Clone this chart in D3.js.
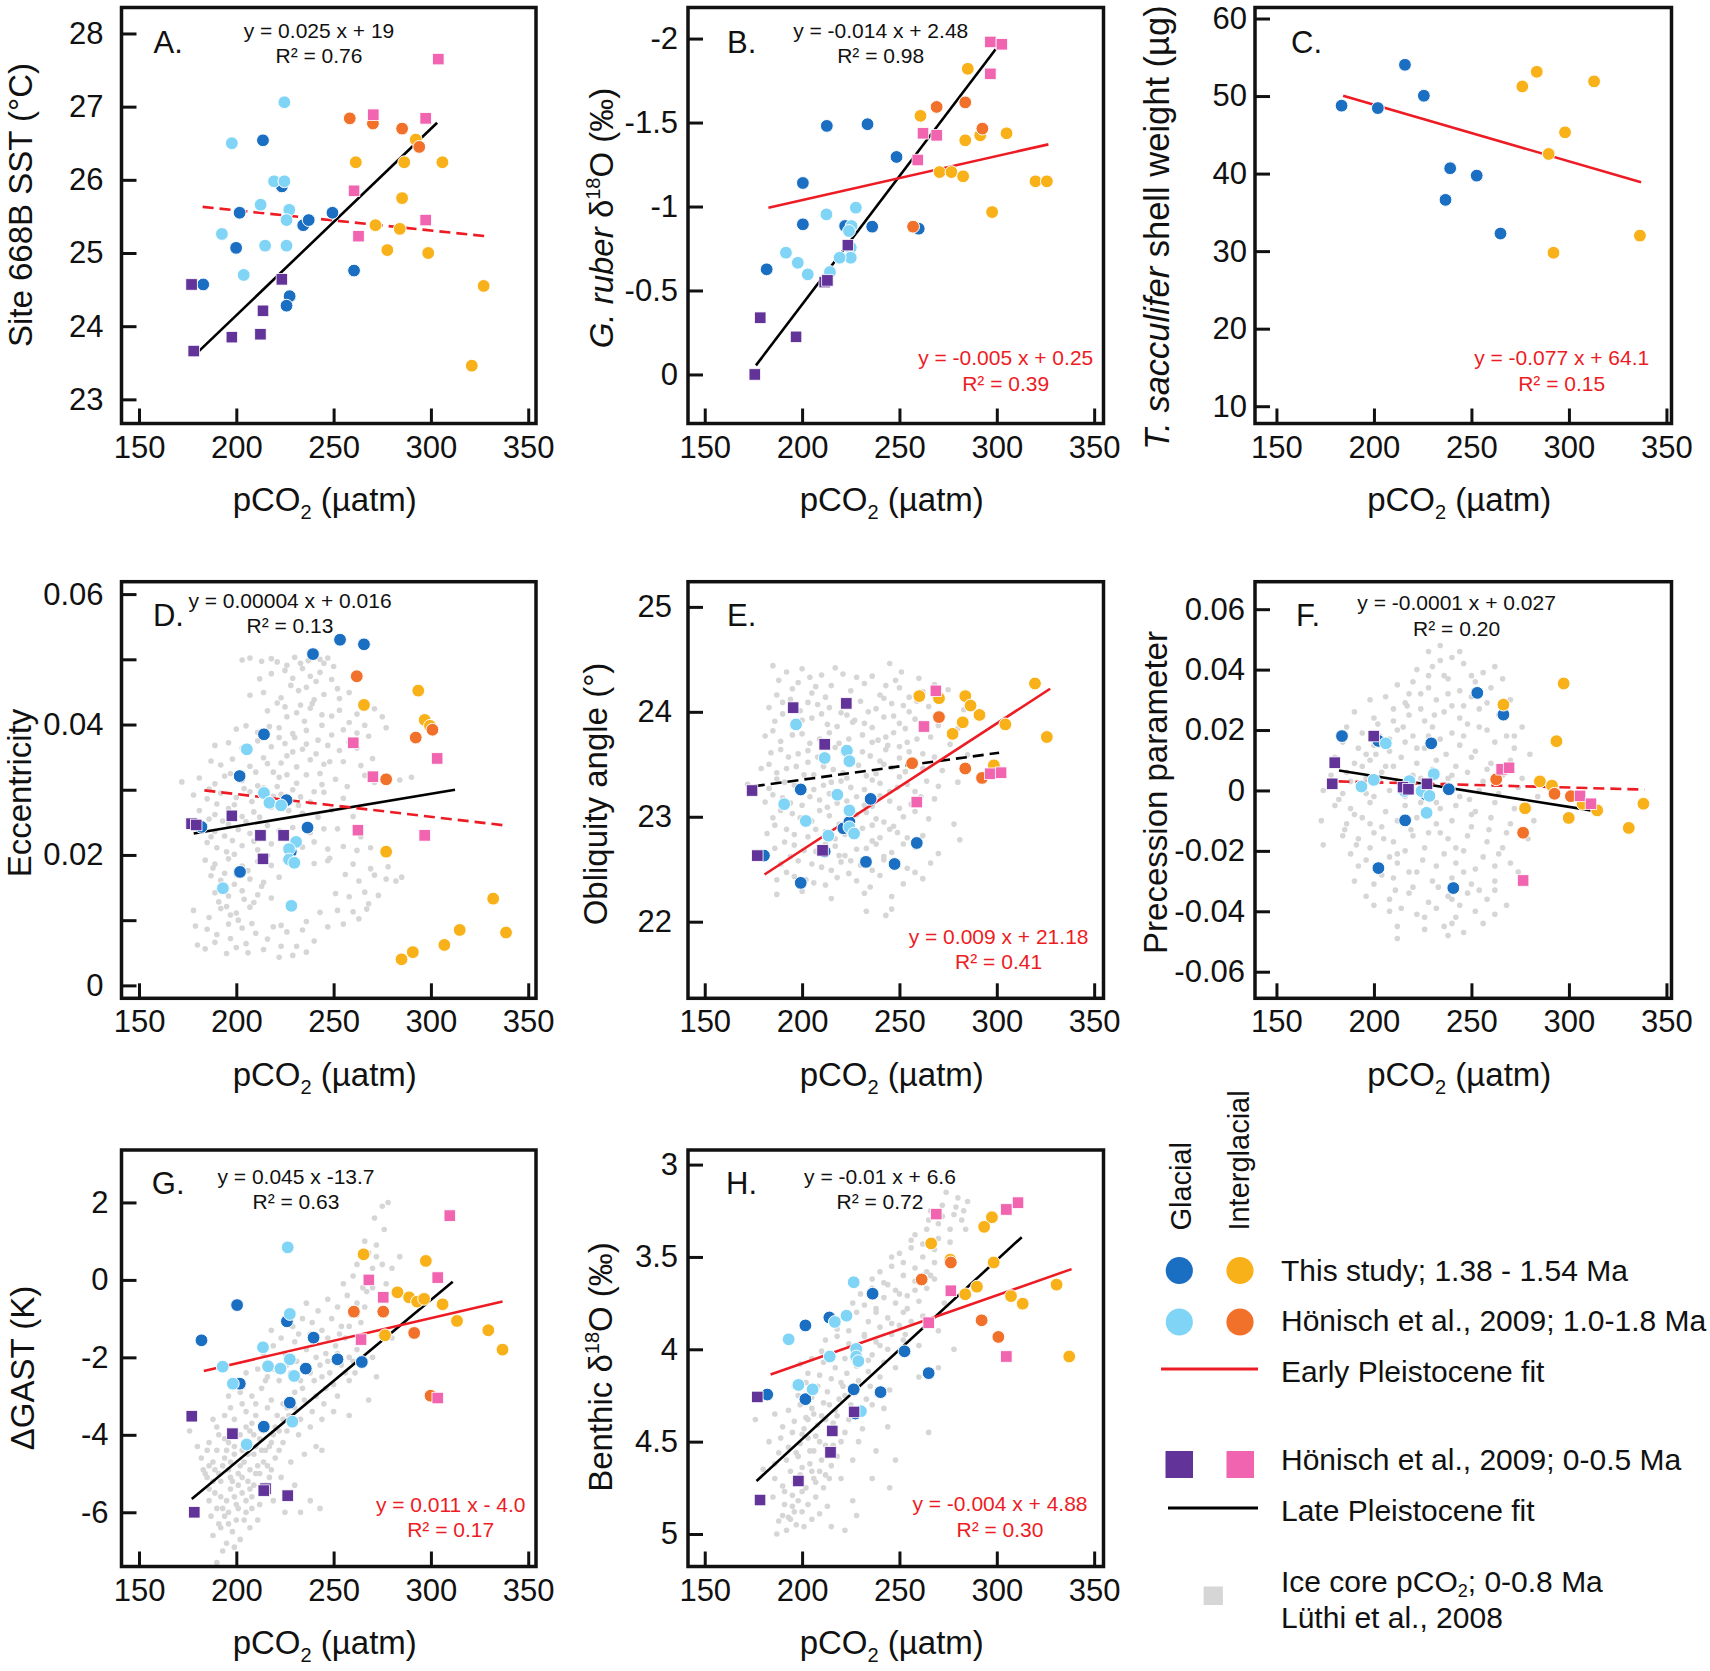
<!DOCTYPE html>
<html><head><meta charset="utf-8">
<script src="https://cdn.jsdelivr.net/npm/d3@7"></script>
<style>
body{margin:0;background:#fff}
svg{display:block}
text{font-family:"Liberation Sans", Arial, Helvetica, sans-serif;fill:#111}
</style>
</head><body>
<svg id="chart" width="1710" height="1671"></svg>
<script>
// ---------- shared axis values ----------
const xTicks = [150, 200, 250, 300, 350];
const xTickLabels = ["150", "200", "250", "300", "350"];

const A_yTicks = [23, 24, 25, 26, 27, 28];
const A_yTickLabels = ["23", "24", "25", "26", "27", "28"];
const B_yTicks = [0, -0.5, -1, -1.5, -2];
const B_yTickLabels = ["0", "-0.5", "-1", "-1.5", "-2"];
const C_yTicks = [10, 20, 30, 40, 50, 60];
const C_yTickLabels = ["10", "20", "30", "40", "50", "60"];
const D_yTicks = [0, 0.01, 0.02, 0.03, 0.04, 0.05, 0.06];
const D_yTickLabels = ["0", "", "0.02", "", "0.04", "", "0.06"];
const E_yTicks = [22, 23, 24, 25];
const E_yTickLabels = ["22", "23", "24", "25"];
const F_yTicks = [-0.06, -0.04, -0.02, 0, 0.02, 0.04, 0.06];
const F_yTickLabels = ["-0.06", "-0.04", "-0.02", "0", "0.02", "0.04", "0.06"];
const G_yTicks = [-6, -4, -2, 0, 2];
const G_yTickLabels = ["-6", "-4", "-2", "0", "2"];
const H_yTicks = [3, 3.5, 4, 4.5, 5];
const H_yTickLabels = ["3", "3.5", "4", "4.5", "5"];

// ---------- A: Site 668B SST ----------
const A_thisGlacial = [[183.0,24.57],[213.7,26.54],[201.7,25.55],[199.9,25.07],[223.4,25.91],[234.4,25.38],[237.2,25.45],[249.4,25.55],[227.4,24.41],[225.8,24.28],[260.5,24.76]];
const A_thisInterglacial = [[261.4,26.24],[286.3,26.24],[305.9,26.24],[292.2,26.55],[285.2,25.75],[271.5,25.38],[284.0,25.33],[277.6,25.04],[298.6,25.0],[327.1,24.55],[321.0,23.46]];
const A_hon18Glacial = [[197.7,26.5],[224.7,27.06],[219.4,25.98],[224.7,25.98],[212.5,25.66],[227.2,25.59],[225.8,25.45],[192.6,25.26],[214.8,25.10],[225.8,25.10],[203.8,24.70]];
const A_hon18Interglacial = [[258.3,26.84],[270.2,26.77],[285.2,26.70],[294.0,26.45]];
const A_hon05Glacial = [[177.0,24.57],[178.1,23.66],[197.7,23.85],[212.4,23.89],[213.7,24.21],[223.4,24.64]];
const A_hon05Interglacial = [[303.8,27.65],[270.4,26.89],[297.3,26.84],[260.5,25.85],[297.3,25.45],[262.8,25.23]];
const A_lateFit = [[178.1,23.59],[303.2,26.78]];
const A_earlyFit = [[182.7,25.63],[328.4,25.23]];

// ---------- B: G. ruber d18O ----------
const B_thisGlacial = [[181.8,-0.626],[212.7,-1.48],[233.6,-1.49],[200.4,-1.14],[200.4,-0.894],[248.5,-1.295],[236.0,-0.88],[222.1,-0.884],[259.9,-0.868]];
const B_thisInterglacial = [[285.1,-1.82],[260.8,-1.54],[305.0,-1.436],[291.5,-1.424],[283.8,-1.394],[270.6,-1.205],[276.7,-1.205],[282.7,-1.18],[319.9,-1.15],[325.7,-1.15],[297.6,-0.967]];
const B_hon18Glacial = [[212.5,-0.953],[227.6,-0.993],[225.4,-0.884],[224.1,-0.854],[225.0,-0.755],[225.0,-0.695],[219.3,-0.695],[191.7,-0.725],[197.8,-0.665],[202.9,-0.596],[214.3,-0.61]];
const B_hon18Interglacial = [[269.1,-1.593],[283.8,-1.62],[292.6,-1.464],[257.0,-0.88]];
const B_hon05Glacial = [[175.7,0.0],[178.5,-0.338],[196.9,-0.224],[211.6,-0.55],[213.0,-0.56],[223.5,-0.77]];
const B_hon05Interglacial = [[296.7,-1.98],[302.6,-1.966],[296.7,-1.79],[262.1,-1.436],[269.1,-1.424],[259.4,-1.277]];
const B_lateFit = [[176.3,-0.054],[299.4,-1.936]];
const B_earlyFit = [[182.7,-0.993],[326.5,-1.37]];

// ---------- C: T. sacculifer shell weight ----------
const C_thisGlacial = [[183.4,48.76],[202.0,48.45],[215.9,54.03],[225.6,50.04],[239.1,40.69],[236.7,36.61],[252.7,39.74],[264.9,32.27]];
const C_thisInterglacial = [[276.1,51.24],[283.5,53.13],[312.9,51.89],[298.0,45.32],[289.6,42.53],[292.1,29.79],[336.4,32.0]];
const C_earlyFit = [[184.2,50.04],[337.0,38.88]];

// ---------- D: Eccentricity ----------
const D_thisGlacial = [[253.3,0.0530],[265.6,0.0523],[239.4,0.0508],[214.2,0.0385],[201.7,0.0321],[225.8,0.0284],[236.6,0.0242],[201.9,0.0174],[182.1,0.0243],[228.0,0.0205]];
const D_thisInterglacial = [[293.5,0.0452],[265.6,0.0430],[296.8,0.0407],[299.5,0.0398],[277.0,0.0205],[332.0,0.0133],[314.8,0.0085],[338.6,0.0081],[306.9,0.0062],[290.7,0.0051],[284.9,0.0040]];
const D_hon18Glacial = [[205.4,0.0362],[214.2,0.0295],[217.0,0.0280],[223.0,0.0276],[230.7,0.0220],[227.1,0.0209],[227.1,0.0193],[229.8,0.0188],[193.1,0.0149],[228.3,0.0122]];
const D_hon18Interglacial = [[261.9,0.0474],[292.2,0.0380],[300.8,0.0392],[277.0,0.0316]];
const D_hon05Glacial = [[177.0,0.0248],[179.4,0.0246],[197.7,0.0260],[212.4,0.0230],[224.3,0.0230],[213.7,0.0194]];
const D_hon05Interglacial = [[260.1,0.0372],[303.2,0.0348],[270.2,0.0320],[262.5,0.0238],[296.8,0.0230]];
const D_lateFit = [[178.1,0.0233],[312.4,0.0300]];
const D_earlyFit = [[183.6,0.0299],[339.0,0.0245]];
const D_iceCore = [
[203,0.0499],[207,0.0502],[213,0.0497],[218,0.0501],[221,0.0496],[230,0.0503],[237,0.0498],[243,0.0500],[245,0.0494],[247,0.0502],
[218,0.0478],[225,0.0483],[229,0.0471],[234,0.0486],[238,0.0474],[243,0.0480],[249,0.0469],
[207,0.0445],[214,0.0449],[223,0.0441],[232,0.0452],[240,0.0438],[245,0.0446],[253,0.0440],[258,0.0449],
[216,0.0421],[225,0.0427],[231,0.0418],[238,0.0425],[244,0.0415],[253,0.0422],[262,0.0416],[271,0.0424],[275,0.0412],
[200,0.0393],[205,0.0398],[211,0.0388],[222,0.0395],[229,0.0386],[236,0.0391],[244,0.0399],[249,0.0384],[255,0.0392],[262,0.0387],[277,0.0395],
[189,0.0368],[196,0.0372],[203,0.0364],[211,0.0375],[218,0.0366],[225,0.0371],[234,0.0362],[242,0.0376],[247,0.0368],[253,0.0360],[258,0.0373],
[187,0.0344],[192,0.0338],[198,0.0347],[207,0.0336],[214,0.0349],[223,0.0341],[231,0.0335],[238,0.0346],[245,0.0339],[255,0.0343],[264,0.0337],
[172,0.0312],[181,0.0318],[189,0.0309],[194,0.0321],[203,0.0314],[211,0.0306],[222,0.0319],[231,0.0310],[236,0.0323],[244,0.0308],[251,0.0316],[271,0.0311],[284,0.0315],[290,0.0319],
[178,0.0292],[185,0.0286],[192,0.0295],[200,0.0288],[207,0.0297],[216,0.0283],[223,0.0293],[233,0.0289],[238,0.0281],[245,0.0296],[255,0.0287],
[181,0.0268],[189,0.0262],[196,0.0271],[203,0.0259],[209,0.0266],[218,0.0273],[234,0.0264],[242,0.0258],[249,0.0269],
[183,0.0243],[189,0.0236],[196,0.0247],[201,0.0239],[207,0.0233],[216,0.0245],[222,0.0237],[229,0.0242],[238,0.0234],[245,0.0240],
[185,0.0219],[190,0.0211],[198,0.0222],[203,0.0214],[211,0.0208],[218,0.0217],[234,0.0212],[240,0.0220],[247,0.0209],[255,0.0213],[262,0.0207],[269,0.0211],
[184,0.0192],[189,0.0186],[196,0.0194],[203,0.0183],[211,0.0190],[218,0.0184],[225,0.0193],[240,0.0187],[247,0.0191],[260,0.0186],[269,0.0179],[278,0.0182],
[187,0.0168],[192,0.0161],[200,0.0170],[207,0.0163],[214,0.0158],[222,0.0166],[271,0.0169],[277,0.0163],[282,0.0160],[285,0.0166],
[189,0.0142],[196,0.0137],[203,0.0145],[211,0.0139],[218,0.0134],[251,0.0141],[258,0.0136],[266,0.0143],[273,0.0138],
[178,0.0115],[192,0.0118],[200,0.0111],[207,0.0120],[260,0.0113],[267,0.0117],
[179,0.0091],[185,0.0086],[196,0.0094],[203,0.0088],[223,0.0092],[234,0.0085],[247,0.0090],[255,0.0094],
[180,0.0062],[189,0.0066],[200,0.0058],[205,0.0064],[214,0.0055],[223,0.0060],[229,0.0046],[240,0.0068],
[186,0.0255],[194,0.0229],[199,0.0201],[206,0.0176],[213,0.0152],[191,0.0128],[197,0.0108],[208,0.0282],[214,0.0303],[219,0.0327],[226,0.0352],[230,0.0380],[235,0.0405],[239,0.0432],[228,0.0460],[212,0.0470],
[186,0.0301],[190,0.0278],[193,0.0252],[187,0.0228],[195,0.0205],[188,0.0180],[194,0.0172],[199,0.0155],[191,0.0147],[204,0.0132],[209,0.0127],[195,0.0121],[186,0.0104],[201,0.0100],[208,0.0095],[190,0.0078],[197,0.0072],[210,0.0080],[216,0.0071],[206,0.0050],[195,0.0049],[184,0.0056],
[212,0.0192],[216,0.0199],[209,0.0221],[214,0.0230],[205,0.0251],[212,0.0258],[199,0.0277],[204,0.0302],[197,0.0325],[210,0.0327],[216,0.0340],[221,0.0305],[226,0.0323],[219,0.0290],[227,0.0268],[232,0.0276],[229,0.0300],[240,0.0297],
[243,0.0325],[248,0.0343],[241,0.0355],[236,0.0370],[229,0.0358],[222,0.0380],[217,0.0397],[226,0.0412],[233,0.0430],[221,0.0433],[236,0.0457],[241,0.0466],[226,0.0491],[233,0.0494],[250,0.0489],[252,0.0455],[249,0.0413],[258,0.0403],
[266,0.0399],[268,0.0382],[262,0.0364],[270,0.0348],[266,0.0322],[257,0.0305],[260,0.0259],[252,0.0240],[264,0.0228],[248,0.0195],[256,0.0170],[263,0.0160],[268,0.0125],[263,0.0102],[252,0.0115],[243,0.0112],[236,0.0098],[226,0.0082],[219,0.0090],[231,0.0060],[236,0.0051],[222,0.0043]
];

// ---------- E: Obliquity ----------
const E_thisGlacial = [[199.3,23.26],[199.3,22.37],[235.2,23.17],[180.4,22.63],[211.6,22.67],[221.2,22.89],[224.3,22.95],[232.8,22.57],[247.5,22.55],[258.9,22.75]];
const E_thisInterglacial = [[260.2,24.15],[270.3,24.13],[283.8,24.15],[286.5,24.06],[291.1,23.97],[282.5,23.90],[304.4,23.88],[277.3,23.79],[319.6,24.27],[325.7,23.76],[298.5,23.49]];
const E_hon18Glacial = [[196.9,23.88],[211.6,23.56],[223.0,23.63],[224.3,23.53],[218.1,23.21],[190.8,23.12],[201.9,22.96],[224.3,23.06],[213.5,22.82],[224.3,22.90],[226.7,22.84]];
const E_hon18Interglacial = [[270.3,23.95],[256.5,23.51],[283.8,23.46],[292.4,23.37]];
const E_hon05Glacial = [[195.4,24.04],[222.7,24.08],[211.6,23.69],[174.3,23.25],[177.0,22.63],[210.5,22.68]];
const E_hon05Interglacial = [[268.7,24.20],[262.6,23.86],[296.6,23.41],[302.2,23.42],[258.9,23.14]];
const E_earlyFit = [[180.7,22.45],[327.4,24.22]];
const E_lateFit = [[175.2,23.29],[301.2,23.61]];
const E_iceCore = [
[185,24.44],[192,24.38],[200,24.41],[210,24.35],[217,24.42],[245,24.46],[251,24.38],
[195,24.22],[205,24.18],[215,24.25],[225,24.20],[232,24.27],[240,24.16],[250,24.23],[262,24.19],[268,24.26],[275,24.21],
[183,24.04],[190,24.09],[199,24.01],[208,24.07],[220,23.99],[230,24.10],[238,24.03],[246,24.08],[255,24.00],[265,24.05],[283,24.02],
[186,23.91],[195,23.86],[205,23.94],[213,23.88],[227,23.92],[236,23.85],[242,23.95],[250,23.89],[258,23.93],[270,23.87],[280,23.84],
[181,23.77],[189,23.72],[200,23.79],[209,23.74],[219,23.70],[231,23.78],[239,23.73],[247,23.80],[254,23.71],[266,23.76],[276,23.69],
[184,23.61],[193,23.57],[203,23.63],[213,23.55],[221,23.62],[235,23.58],[243,23.64],[250,23.56],[262,23.60],[285,23.59],
[179,23.46],[187,23.42],[197,23.48],[206,23.40],[216,23.45],[229,23.49],[238,23.41],[246,23.47],[253,23.43],[272,23.44],
[172,23.31],[183,23.27],[191,23.33],[201,23.25],[211,23.30],[220,23.34],[232,23.26],[240,23.32],[249,23.28],[258,23.24],[270,23.29],[280,23.33],
[181,23.14],[190,23.18],[200,23.11],[209,23.16],[218,23.13],[228,23.19],[236,23.10],[245,23.15],[256,23.12],[268,23.17],
[185,22.99],[195,23.03],[205,22.96],[214,23.01],[224,22.97],[233,23.04],[242,22.95],[252,23.00],[265,22.98],[278,22.93],
[182,22.84],[192,22.88],[203,22.81],[212,22.86],[222,22.83],[231,22.89],[240,22.80],[249,22.85],[262,22.82],[281,22.78],
[186,22.70],[196,22.73],[207,22.67],[217,22.72],[228,22.69],[238,22.74],[246,22.66],[258,22.71],[270,22.65],
[189,22.55],[198,22.58],[210,22.52],[220,22.57],[230,22.54],[242,22.59],[254,22.51],[266,22.56],
[187,22.40],[196,22.43],[206,22.37],[218,22.42],[228,22.39],[240,22.44],[252,22.36],[262,22.41],
[187,22.26],[200,22.29],[215,22.22],[232,22.27],[246,22.24],
[233,22.10],[243,22.06],[246,22.12],
[203,23.52],[223,23.37],[226,23.90],[244,23.68],[214,23.22],[236,22.92],[219,22.63],[207,24.24],[228,24.33],[248,24.30],
[188,24.30],[198,24.28],[204,24.33],[212,24.14],[221,24.36],[236,24.34],[243,24.25],[255,24.14],[260,24.32],
[187,24.16],[194,24.12],[203,24.09],[214,24.04],[224,24.11],[234,24.00],[242,24.13],[252,24.06],[259,24.10],[270,24.12],
[190,23.98],[200,23.92],[210,23.98],[218,23.86],[223,23.97],[232,23.89],[247,23.96],[253,23.84],[262,23.88],
[185,23.82],[195,23.78],[204,23.70],[214,23.80],[224,23.74],[236,23.71],[243,23.76],[250,23.67],[259,23.74],
[189,23.64],[198,23.60],[208,23.57],[217,23.66],[226,23.55],[231,23.62],[240,23.53],[255,23.62],[268,23.57],
[183,23.50],[192,23.46],[201,23.40],[211,23.48],[221,23.42],[233,23.39],[242,23.50],[250,23.38],[262,23.46],
[187,23.36],[196,23.30],[206,23.26],[215,23.33],[225,23.28],[236,23.35],[245,23.24],[254,23.31],[264,23.34],
[185,23.21],[194,23.13],[204,23.19],[213,23.09],[223,23.15],[232,23.11],[240,23.20],[250,23.08],[261,23.19],
[189,23.06],[199,22.99],[209,23.06],[219,22.93],[228,23.02],[238,22.98],[247,22.91],[258,23.05],
[186,22.92],[196,22.83],[207,22.88],[217,22.79],[226,22.86],[236,22.77],[245,22.88],[254,22.80],
[191,22.76],[201,22.68],[212,22.74],[222,22.63],[233,22.70],[242,22.62],[252,22.74],
[194,22.62],[205,22.55],[215,22.49],[225,22.58],[236,22.49],[248,22.55],
[192,22.47],[202,22.40],[212,22.35],[224,22.46],[235,22.33],[258,22.47]
];

// ---------- F: Precession ----------
const F_thisGlacial = [[183.6,0.0180],[202.3,0.0164],[229.4,0.0156],[253.0,0.0323],[266.4,0.0251],[238.4,0.0004],[226.6,-0.0013],[216.0,-0.0099],[202.3,-0.0257],[240.7,-0.0323]];
const F_thisInterglacial = [[297.3,0.0354],[266.4,0.0284],[293.6,0.0163],[285.1,0.0030],[291.3,0.0016],[277.5,-0.0059],[299.9,-0.0091],[307.0,-0.0044],[314.5,-0.0066],[338.2,-0.0044],[330.7,-0.0124]];
const F_hon18Glacial = [[206.1,0.0156],[199.9,0.0035],[193.6,0.0013],[218.2,0.0031],[215.7,-0.0002],[224.4,-0.0002],[228.5,-0.0018],[230.7,0.0054],[227.0,-0.0074]];
const F_hon18Interglacial = [[262.7,0.0037],[292.6,-0.0011],[301.0,-0.0019],[276.5,-0.0140]];
const F_hon05Glacial = [[179.9,0.0092],[178.6,0.0022],[199.9,0.0180],[214.9,0.0011],[217.7,0.0004],[227.2,0.0022]];
const F_hon05Interglacial = [[265.5,0.0070],[269.3,0.0075],[305.7,-0.0018],[311.3,-0.0044],[276.5,-0.0298]];
const F_lateFit = [[182.1,0.0066],[311.3,-0.0066]];
const F_earlyFit = [[181.8,0.0030],[338.8,0.0003]];
const F_iceCore = [
[228,0.046],[234,0.048],[240,0.044],
[222,0.040],[230,0.041],[236,0.038],[246,0.042],[256,0.039],[262,0.041],
[212,0.035],[220,0.036],[228,0.034],[238,0.037],[244,0.033],[252,0.036],[260,0.034],[266,0.037],
[198,0.030],[206,0.031],[216,0.029],[224,0.032],[232,0.030],[240,0.028],[250,0.031],[258,0.029],[270,0.030],
[190,0.026],[200,0.024],[210,0.027],[218,0.025],[226,0.023],[236,0.026],[244,0.024],[254,0.027],[264,0.025],
[186,0.021],[194,0.019],[202,0.022],[212,0.020],[220,0.018],[230,0.021],[240,0.019],[248,0.022],[258,0.020],[268,0.018],[276,0.021],
[184,0.016],[192,0.014],[200,0.015],[208,0.013],[216,0.016],[226,0.014],[234,0.017],[244,0.015],[252,0.013],[262,0.016],[272,0.014],
[180,0.011],[190,0.009],[198,0.010],[206,0.008],[214,0.011],[222,0.009],[232,0.010],[242,0.008],[250,0.011],[260,0.009],[270,0.010],[280,0.012],
[178,0.005],[186,0.006],[196,0.004],[204,0.006],[212,0.003],[220,0.005],[230,0.007],[238,0.004],[248,0.006],[256,0.003],[266,0.005],[276,0.004],
[174,0.000],[184,-0.001],[192,0.001],[200,-0.002],[208,0.000],[218,0.001],[226,-0.001],[236,0.002],[244,-0.002],[254,0.000],[264,-0.001],[274,0.001],[284,-0.002],
[180,-0.005],[188,-0.006],[198,-0.004],[206,-0.007],[216,-0.005],[224,-0.004],[234,-0.006],[242,-0.005],[252,-0.007],[262,-0.004],[272,-0.006],
[173,-0.010],[186,-0.011],[194,-0.009],[204,-0.012],[212,-0.010],[222,-0.009],[232,-0.011],[240,-0.010],[250,-0.012],[260,-0.009],[270,-0.011],[282,-0.010],
[174,-0.018],[184,-0.015],[192,-0.016],[200,-0.014],[210,-0.017],[220,-0.015],[228,-0.014],[238,-0.016],[248,-0.015],[258,-0.017],[268,-0.014],[279,-0.016],
[188,-0.021],[198,-0.019],[208,-0.022],[216,-0.020],[226,-0.019],[236,-0.021],[246,-0.020],[256,-0.022],[266,-0.019],
[192,-0.025],[202,-0.026],[212,-0.024],[222,-0.027],[232,-0.025],[242,-0.024],[252,-0.026],[262,-0.025],[274,-0.027],
[190,-0.030],[200,-0.031],[210,-0.029],[220,-0.032],[230,-0.030],[240,-0.029],[250,-0.031],[262,-0.030],
[196,-0.035],[208,-0.036],[218,-0.034],[228,-0.037],[238,-0.035],[248,-0.034],[258,-0.036],[268,-0.038],
[208,-0.040],[222,-0.041],[232,-0.039],[242,-0.042],[252,-0.040],[262,-0.041],
[212,-0.045],[226,-0.046],[240,-0.044],[246,-0.047],
[212,-0.049],[238,-0.048],
[196,0.012],[203,0.018],[210,0.023],[217,0.028],[224,0.027],[231,0.025],[238,0.032],[246,0.028],[228,0.038],[234,0.043],[218,0.032],
[188,0.003],[194,0.008],[201,0.012],[208,0.017],[215,0.021],[222,0.014],[228,0.018],[237,0.012],[246,0.018],[254,0.021],
[182,-0.003],[190,-0.008],[196,-0.001],[203,0.003],[210,0.008],[216,-0.002],[224,0.004],[232,-0.004],[240,0.005],[249,-0.003],[258,0.007],
[185,-0.013],[191,-0.018],[198,-0.011],[205,-0.016],[212,-0.021],[219,-0.013],[226,-0.007],[234,-0.014],[242,-0.019],[250,-0.008],[259,-0.013],
[196,-0.023],[204,-0.028],[211,-0.033],[218,-0.027],[225,-0.023],[233,-0.032],[240,-0.036],[246,-0.027],[254,-0.033],[264,-0.021],
[200,-0.038],[214,-0.039],[226,-0.042],[236,-0.045],[244,-0.038],[256,-0.044],[262,-0.033],[270,-0.024],[276,-0.013],[272,0.018],[266,0.028],[250,0.038],[244,0.046]
];

// ---------- G: delta GAST ----------
const G_thisGlacial = [[182.1,-1.56],[200.4,-0.65],[226.0,-1.07],[239.7,-1.49],[235.7,-2.29],[252.0,-2.05],[264.5,-2.12],[201.8,-2.68],[227.5,-3.17],[214.1,-3.79]];
const G_thisInterglacial = [[265.4,0.66],[297.4,0.49],[282.8,-0.32],[288.8,-0.45],[292.9,-0.56],[296.5,-0.49],[306.0,-0.63],[313.4,-1.06],[329.5,-1.30],[336.8,-1.80],[276.4,-1.43]];
const G_hon18Glacial = [[226.4,0.84],[227.5,-0.88],[213.7,-1.74],[227.5,-2.05],[216.3,-2.23],[222.7,-2.29],[229.7,-2.48],[193.0,-2.24],[198.2,-2.68],[228.8,-3.66],[205.3,-4.25]];
const G_hon18Interglacial = [[260.4,-0.82],[275.5,-0.82],[291.4,-1.37],[299.8,-2.99]];
const G_hon05Glacial = [[177.1,-3.52],[198.0,-3.97],[215.0,-5.39],[214.1,-5.44],[226.4,-5.57],[178.4,-6.0]];
const G_hon05Interglacial = [[309.7,1.66],[268.1,0.0],[303.5,0.06],[275.5,-0.45],[264.1,-1.54],[303.5,-3.05]];
const G_lateFit = [[177.1,-5.66],[311.2,-0.05]];
const G_earlyFit = [[183.3,-2.35],[336.8,-0.56]];
const G_iceCore = [
[188,-6.6],[193,-7.0],[196,-6.3],[200,-6.2],[205,-6.0],[190,-5.9],[195,-5.7],[199,-5.6],[203,-5.5],[208,-5.6],[212,-5.8],
[186,-5.4],[192,-5.2],[197,-5.1],[201,-5.0],[206,-5.2],[210,-5.0],[215,-5.3],[219,-5.7],[225,-6.0],[233,-6.0],[238,-5.7],[243,-5.9],
[183,-4.9],[188,-4.7],[194,-4.6],[199,-4.5],[204,-4.7],[209,-4.5],[214,-4.7],[218,-4.9],[223,-5.1],[230,-5.3],
[180,-4.3],[186,-4.2],[191,-4.0],[196,-4.2],[202,-4.0],[207,-3.9],[212,-4.1],[217,-4.3],[222,-4.4],[228,-4.7],[235,-4.5],[241,-4.3],
[176,-3.9],[188,-3.6],[194,-3.5],[199,-3.6],[205,-3.4],[210,-3.5],[215,-3.7],[220,-3.8],[226,-3.9],[232,-4.0],[238,-3.8],[244,-3.6],[250,-3.4],
[196,-3.0],[202,-2.9],[208,-3.0],[213,-2.8],[218,-3.1],[224,-3.2],[230,-3.3],[235,-3.1],[241,-3.0],[246,-2.8],[252,-3.0],[258,-2.6],[268,-3.1],
[205,-2.4],[211,-2.3],[216,-2.5],[222,-2.6],[228,-2.4],[233,-2.6],[238,-2.4],[243,-2.2],[248,-2.4],[254,-2.2],[261,-2.4],[270,-2.0],
[214,-1.9],[219,-1.7],[225,-1.9],[230,-1.6],[236,-1.8],[241,-1.6],[246,-1.9],[251,-1.7],[256,-1.5],[262,-1.8],
[218,-1.3],[229,-1.2],[234,-1.0],[239,-1.1],[244,-1.3],[249,-1.0],[254,-1.2],[259,-0.9],[264,-1.1],
[236,-0.6],[242,-0.8],[247,-0.5],[252,-0.7],[257,-0.4],[262,-0.6],[267,-0.3],
[255,-0.1],[260,0.1],[265,-0.2],[270,0.3],[275,0.4],[262,0.4],[268,0.7],[272,0.9],[276,1.3],[271,1.6],[275,1.9],[278,2.0],[280,0.3],[284,0.6],
[190,-7.3],[244,-4.4],[258,-3.5],[272,-2.5],[280,-1.5],[192,-6.4],[201,-5.9],[207,-4.9],[196,-4.9],[203,-4.4],[213,-4.4],[208,-3.7],
[187,-6.1],[191,-6.3],[195,-6.8],[198,-6.5],[202,-6.7],[207,-6.4],[211,-6.2],[186,-5.7],[189,-5.5],[193,-5.9],[197,-5.4],[201,-5.3],[205,-5.7],[209,-5.3],[213,-5.5],[217,-5.1],
[185,-5.1],[189,-4.9],[193,-4.8],[197,-4.7],[202,-4.8],[206,-4.5],[211,-4.8],[215,-4.4],[220,-4.6],[224,-4.2],
[182,-4.6],[185,-4.4],[190,-4.4],[194,-4.1],[199,-4.3],[204,-4.2],[209,-4.0],[214,-3.9],[219,-4.0],[224,-3.6],[229,-3.7],
[190,-3.8],[197,-3.3],[203,-3.2],[210,-3.2],[216,-3.3],[221,-3.5],[227,-3.5],[233,-3.6],[239,-3.4],[245,-3.2],
[215,-2.6],[219,-2.3],[226,-2.2],[231,-2.1],[236,-2.2],[241,-2.0],[247,-2.1],[252,-1.9],[258,-2.0],[264,-1.5],
[223,-1.5],[232,-1.4],[238,-1.4],[247,-1.5],[253,-1.4],[258,-1.2],[262,-0.9],[266,-0.7],[270,-0.2],[272,0.6],[277,-0.1],[266,1.0],
[184,-5.0],[188,-5.2],[192,-5.6],[196,-6.0],[200,-5.8],[204,-6.2],[208,-5.9],[212,-5.0],[216,-4.8],[195,-4.4],[199,-4.0],[205,-3.8],[210,-4.3],[186,-4.8],[191,-5.0],
[198,-5.2],[203,-5.1],[207,-5.4],[194,-6.1],[199,-6.9],[218,-4.2],[222,-3.9],[226,-3.3],[230,-2.9],[234,-2.8],[240,-2.6],[244,-2.5],[250,-2.7],[256,-2.4],[260,-2.1]
];

// ---------- H: Benthic d18O ----------
const H_thisGlacial = [[182.1,4.245],[201.7,3.871],[214.0,3.828],[201.7,4.27],[226.5,4.217],[236.2,3.699],[240.3,4.232],[252.6,4.011],[265.0,4.129],[227.4,4.348]];
const H_thisInterglacial = [[297.5,3.285],[293.5,3.337],[266.3,3.427],[298.4,3.53],[289.8,3.661],[283.8,3.702],[307.3,3.712],[313.3,3.753],[330.7,3.65],[337.2,4.039],[276.1,3.515]];
const H_hon18Glacial = [[226.5,3.637],[222.8,3.818],[216.8,3.852],[193.1,3.946],[227.8,3.998],[227.8,4.039],[228.9,4.064],[214.2,4.039],[198.1,4.193],[205.4,4.217],[230.2,4.335]];
const H_hon18Interglacial = [[261.4,3.622],[276.4,3.53],[292.2,3.843],[300.8,3.933]];
const H_hon05Glacial = [[177.0,4.258],[226.7,4.339],[215.5,4.442],[214.6,4.558],[198.1,4.713],[178.4,4.816]];
const H_hon05Interglacial = [[310.9,3.206],[304.9,3.243],[268.9,3.268],[276.4,3.683],[265.0,3.856],[304.9,4.039]];
const H_lateFit = [[176.6,4.713],[312.8,3.393]];
const H_earlyFit = [[183.8,4.137],[338.4,3.566]];
const H_iceCore = [
[187,5.0],[192,4.98],[197,4.95],[190,4.9],[195,4.85],[200,4.88],[205,4.92],[215,4.96],[222,4.98],
[185,4.8],[191,4.77],[196,4.72],[202,4.75],[207,4.8],[213,4.85],[226,4.82],[236,4.7],
[180,4.65],[186,4.62],[192,4.6],[198,4.58],[204,4.62],[209,4.66],[214,4.7],
[183,4.5],[189,4.48],[195,4.45],[201,4.43],[207,4.47],[212,4.52],[218,4.58],
[176,4.38],[186,4.35],[193,4.33],[199,4.3],[205,4.32],[210,4.36],[216,4.4],[222,4.45],[229,4.5],[238,4.55],
[196,4.2],[202,4.18],[208,4.2],[213,4.23],[219,4.27],[225,4.3],[231,4.35],[242,4.32],
[199,4.08],[205,4.05],[211,4.07],[217,4.1],[223,4.13],[229,4.17],[235,4.2],[245,4.22],
[212,3.95],[218,3.93],[224,3.97],[230,4.0],[236,4.03],[242,4.07],[248,4.1],
[222,3.83],[228,3.8],[234,3.85],[240,3.88],[246,3.92],[252,3.95],[260,3.98],
[230,3.7],[236,3.67],[242,3.72],[248,3.75],[254,3.78],[262,3.82],[270,3.9],
[240,3.58],[246,3.55],[252,3.6],[258,3.63],[264,3.67],
[250,3.48],[256,3.45],[262,3.5],[268,3.53],
[258,3.38],[264,3.35],[270,3.4],[276,3.42],
[266,3.25],[272,3.22],[278,3.27],[282,3.3],
[274,3.15],[280,3.18],[285,3.2],[284,3.35],[277,3.5],[266,3.6],[273,3.75],[278,4.0],[270,4.1],[260,4.15],[265,4.45],[248,4.6],[245,4.75],[228,4.9],[220,4.7],
[194,4.92],[199,4.68],[206,4.55],[203,4.38],[214,4.3],[220,4.18],[226,4.05],[232,3.92],[238,3.78],[244,3.65],[250,3.7],[256,3.85],
[188,4.93],[193,4.91],[198,4.82],[203,4.84],[209,4.89],[194,4.66],[200,4.64],[206,4.70],[211,4.75],[188,4.56],[193,4.53],[199,4.51],[204,4.55],[210,4.60],[215,4.63],[216,4.52],
[190,4.42],[196,4.39],[202,4.37],[208,4.41],[214,4.46],[220,4.50],[198,4.25],[205,4.26],[211,4.29],[217,4.33],[224,4.38],[231,4.43],
[203,4.13],[209,4.14],[215,4.16],[221,4.20],[227,4.24],[233,4.27],[210,4.01],[216,4.03],[222,4.05],[228,4.09],[234,4.12],[240,4.15],
[218,3.89],[224,3.90],[232,3.93],[238,3.96],[244,4.00],[226,3.75],[232,3.76],[238,3.80],[244,3.83],[250,3.87],
[236,3.62],[242,3.64],[248,3.68],[254,3.71],[260,3.74],[246,3.50],[252,3.53],[258,3.56],[264,3.58],[256,3.41],[262,3.43],[268,3.46],[265,3.30],[270,3.32],[276,3.35],[272,3.28],[279,3.23],[283,3.25],
[186,4.70],[190,4.74],[195,4.79],[200,4.77],[205,4.66],[191,4.84],[196,4.88],[201,4.96],[207,4.72],[212,4.68],[197,4.56],[203,4.48],[209,4.50],[200,4.46],[206,4.35],
[212,4.38],[218,4.36],[222,4.25],[228,4.20],[234,4.06],[240,3.98],[246,3.86],[252,3.80],[258,3.68],[262,3.60],[268,3.62],[253,3.92],[236,4.30],[244,4.42],[226,4.60]
];

// ---------- styles ----------
const COL = {
  thisG: "#1a6fc2", thisI: "#f8b119",
  h18G: "#80d5f7", h18I: "#f1712b",
  h05G: "#62349a", h05I: "#f064b0",
  ice: "#d6d6d6", red: "#ed1c24", black: "#000"
};

const cols = [
  {range: [121.5, 536], domain: [141, 354]},
  {range: [688, 1103.5], domain: [141.4, 354.8]},
  {range: [1255, 1671.5], domain: [139, 352.6]}
];
const rows = [[7.5, 423.5], [581.7, 998.3], [1150, 1566.5]];

const panels = [
  {col:0,row:0, yDomain:[22.67,28.355], yTicks:A_yTicks, yLabels:A_yTickLabels, gap:18,
   letter:"A.", letterPos:[153.6,53.3], ylab:[{t:"Site 668B SST (°C)"}], ylabPos:[31.5,205], ylabSize:33,
   ice:null, series:[A_thisGlacial,A_thisInterglacial,A_hon18Glacial,A_hon18Interglacial,A_hon05Glacial,A_hon05Interglacial],
   fits:[{d:A_lateFit,c:COL.black,dash:null},{d:A_earlyFit,c:COL.red,dash:"11,6"}],
   eqs:[{l:["y = 0.025 x + 19","R² = 0.76"],c:"#111",x:319,y:[37.7,63.3]}]},
  {col:1,row:0, yDomain:[0.292,-2.185], yTicks:B_yTicks, yLabels:B_yTickLabels, gap:10,
   letter:"B.", letterPos:[727,53.3], ylab:[{t:"G. ruber",i:true},{t:" δ"},{t:"18",sup:true},{t:"O (‰)",back:true}], ylabPos:[613,218], ylabSize:33,
   ice:null, series:[B_thisGlacial,B_thisInterglacial,B_hon18Glacial,B_hon18Interglacial,B_hon05Glacial,B_hon05Interglacial],
   fits:[{d:B_lateFit,c:COL.black,dash:null},{d:B_earlyFit,c:COL.red,dash:null}],
   eqs:[{l:["y = -0.014 x + 2.48","R² = 0.98"],c:"#111",x:880.7,y:[37.7,63.3]},
        {l:["y = -0.005 x + 0.25","R² = 0.39"],c:COL.red,x:1005.7,y:[365,390.5]}]},
  {col:2,row:0, yDomain:[7.77,61.42], yTicks:C_yTicks, yLabels:C_yTickLabels, gap:8,
   letter:"C.", letterPos:[1291,53.3], ylab:[{t:"T. sacculifer",i:true},{t:" shell weight (µg)"}], ylabPos:[1169,227.5], ylabSize:34.5,
   ice:null, series:[C_thisGlacial,C_thisInterglacial,[],[],[],[]],
   fits:[{d:C_earlyFit,c:COL.red,dash:null}],
   eqs:[{l:["y = -0.077 x + 64.1","R² = 0.15"],c:COL.red,x:1561.7,y:[365,390.5]}]},
  {col:0,row:1, yDomain:[-0.00198,0.0619], yTicks:D_yTicks, yLabels:D_yTickLabels, gap:18,
   letter:"D.", letterPos:[152.9,626], ylab:[{t:"Eccentricity"}], ylabPos:[30.5,793], ylabSize:33,
   ice:D_iceCore, series:[D_thisGlacial,D_thisInterglacial,D_hon18Glacial,D_hon18Interglacial,D_hon05Glacial,D_hon05Interglacial],
   fits:[{d:D_lateFit,c:COL.black,dash:null},{d:D_earlyFit,c:COL.red,dash:"11,6"}],
   eqs:[{l:["y = 0.00004 x + 0.016","R² = 0.13"],c:"#111",x:290,y:[607.7,633.3]}]},
  {col:1,row:1, yDomain:[21.27,25.24], yTicks:E_yTicks, yLabels:E_yTickLabels, gap:16,
   letter:"E.", letterPos:[727,626], ylab:[{t:"Obliquity angle (°)"}], ylabPos:[607,794], ylabSize:33,
   ice:E_iceCore, series:[E_thisGlacial,E_thisInterglacial,E_hon18Glacial,E_hon18Interglacial,E_hon05Glacial,E_hon05Interglacial],
   fits:[{d:E_lateFit,c:COL.black,dash:"11,6"},{d:E_earlyFit,c:COL.red,dash:null}],
   eqs:[{l:["y = 0.009 x + 21.18","R² = 0.41"],c:COL.red,x:998.6,y:[944,969.3]}]},
  {col:2,row:1, yDomain:[-0.0688,0.0691], yTicks:F_yTicks, yLabels:F_yTickLabels, gap:10,
   letter:"F.", letterPos:[1296,626], ylab:[{t:"Precession parameter"}], ylabPos:[1167,792.5], ylabSize:33,
   ice:F_iceCore, series:[F_thisGlacial,F_thisInterglacial,F_hon18Glacial,F_hon18Interglacial,F_hon05Glacial,F_hon05Interglacial],
   fits:[{d:F_lateFit,c:COL.black,dash:null},{d:F_earlyFit,c:COL.red,dash:"11,6"}],
   eqs:[{l:["y = -0.0001 x + 0.027","R² = 0.20"],c:"#111",x:1456.6,y:[610,636]}]},
  {col:0,row:2, yDomain:[-7.40,3.354], yTicks:G_yTicks, yLabels:G_yTickLabels, gap:13,
   letter:"G.", letterPos:[151.8,1193.8], ylab:[{t:"ΔGAST (K)"}], ylabPos:[34,1368], ylabSize:33,
   ice:G_iceCore, series:[G_thisGlacial,G_thisInterglacial,G_hon18Glacial,G_hon18Interglacial,G_hon05Glacial,G_hon05Interglacial],
   fits:[{d:G_lateFit,c:COL.black,dash:null},{d:G_earlyFit,c:COL.red,dash:null}],
   eqs:[{l:["y = 0.045 x -13.7","R² = 0.63"],c:"#111",x:296,y:[1183.5,1208.7]},
        {l:["y = 0.011 x - 4.0","R² = 0.17"],c:COL.red,x:450.7,y:[1512.3,1537.2]}]},
  {col:1,row:2, yDomain:[5.176,2.921], yTicks:H_yTicks, yLabels:H_yTickLabels, gap:10,
   letter:"H.", letterPos:[726,1194], ylab:[{t:"Benthic δ"},{t:"18",sup:true},{t:"O (‰)",back:true}], ylabPos:[612,1367], ylabSize:33,
   ice:H_iceCore, series:[H_thisGlacial,H_thisInterglacial,H_hon18Glacial,H_hon18Interglacial,H_hon05Glacial,H_hon05Interglacial],
   fits:[{d:H_lateFit,c:COL.black,dash:null},{d:H_earlyFit,c:COL.red,dash:null}],
   eqs:[{l:["y = -0.01 x + 6.6","R² = 0.72"],c:"#111",x:880,y:[1183.5,1209]},
        {l:["y = -0.004 x + 4.88","R² = 0.30"],c:COL.red,x:1000,y:[1511.3,1537]}]}
];

const seriesStyle = [
  {shape:"circle", fill:COL.thisG},
  {shape:"circle", fill:COL.thisI},
  {shape:"circle", fill:COL.h18G},
  {shape:"circle", fill:COL.h18I},
  {shape:"square", fill:COL.h05G},
  {shape:"square", fill:COL.h05I}
];

const svg = d3.select("#chart");
const TICK_FONT = 31, EQ_FONT = 21;

panels.forEach(p => {
  const [x0, x1] = cols[p.col].range;
  const [y0, y1] = rows[p.row];
  const x = d3.scaleLinear().domain(cols[p.col].domain).range([x0, x1]);
  const y = d3.scaleLinear().domain(p.yDomain).range([y1, y0]);
  const g = svg.append("g");

  if (p.ice) {
    g.append("g").selectAll("circle").data(p.ice).join("circle")
      .attr("cx", d => x(d[0])).attr("cy", d => y(d[1])).attr("r", 2.8)
      .attr("fill", COL.ice);
  }
  const line = d3.line().x(d => x(d[0])).y(d => y(d[1]));
  p.fits.forEach(f => {
    g.append("path").attr("d", line(f.d)).attr("fill", "none")
      .attr("stroke", f.c).attr("stroke-width", 2.6)
      .attr("stroke-dasharray", f.dash);
  });
  p.series.forEach((s, i) => {
    const st = seriesStyle[i];
    const sg = g.append("g");
    if (st.shape === "circle") {
      sg.selectAll("circle").data(s).join("circle")
        .attr("cx", d => x(d[0])).attr("cy", d => y(d[1])).attr("r", 6.4)
        .attr("fill", st.fill).attr("stroke", "#fff").attr("stroke-width", 1);
    } else {
      const a = 11.5;
      sg.selectAll("rect").data(s).join("rect")
        .attr("x", d => x(d[0]) - a/2).attr("y", d => y(d[1]) - a/2)
        .attr("width", a).attr("height", a)
        .attr("fill", st.fill).attr("stroke", "#fff").attr("stroke-width", 0.8);
    }
  });

  const xAxis = d3.axisBottom(x).tickValues(xTicks).tickSize(-15).tickPadding(12)
    .tickFormat((d, i) => xTickLabels[i]);
  const gx = g.append("g").attr("transform", `translate(0,${y1})`).call(xAxis);
  const yAxis = d3.axisLeft(y).tickValues(p.yTicks).tickSize(-15).tickPadding(p.gap)
    .tickFormat((d, i) => p.yLabels[i]);
  const gy = g.append("g").attr("transform", `translate(${x0},0)`).call(yAxis);
  [gx, gy].forEach(ax => {
    ax.select(".domain").remove();
    ax.selectAll(".tick line").attr("stroke", "#111").attr("stroke-width", 3);
    ax.selectAll(".tick text").attr("font-size", TICK_FONT).attr("fill", "#111")
      .attr("font-family", '"Liberation Sans", Arial, sans-serif');
  });

  g.append("rect").attr("x", x0).attr("y", y0).attr("width", x1 - x0).attr("height", y1 - y0)
    .attr("fill", "none").attr("stroke", "#111").attr("stroke-width", 3.5);

  g.append("text").attr("x", p.letterPos[0]).attr("y", p.letterPos[1])
    .attr("font-size", 31).text(p.letter);

  p.eqs.forEach(e => {
    e.l.forEach((t, k) => {
      g.append("text").attr("x", e.x).attr("y", e.y[k]).attr("text-anchor", "middle")
        .attr("font-size", EQ_FONT).style("fill", e.c).text(t);
    });
  });

  const xl = g.append("text").attr("x", (x0 + x1) / 2 - 4).attr("y", y1 + 87.5)
    .attr("text-anchor", "middle").attr("font-size", 33);
  xl.append("tspan").text("pCO");
  xl.append("tspan").attr("font-size", 20).attr("dy", 8).text("2");
  xl.append("tspan").attr("dy", -8).text(" (µatm)");

  const yl = g.append("text")
    .attr("transform", `translate(${p.ylabPos[0]},${p.ylabPos[1]}) rotate(-90)`)
    .attr("text-anchor", "middle").attr("font-size", p.ylabSize);
  p.ylab.forEach(part => {
    const ts = yl.append("tspan").text(part.t);
    if (part.i) ts.attr("font-style", "italic");
    if (part.sup) ts.attr("font-size", 20).attr("dy", -13);
    if (part.back) ts.attr("dy", 13);
  });
});

// ---------- legend ----------
const legendCircles = [
  {cx:1179.3, cy:1270.5, c:COL.thisG}, {cx:1240, cy:1270.5, c:COL.thisI},
  {cx:1179.3, cy:1322, c:COL.h18G}, {cx:1240, cy:1322, c:COL.h18I}
];
const legendTexts = [
  {t:"This study; 1.38 - 1.54 Ma", y:1280.5},
  {t:"Hönisch et al., 2009; 1.0-1.8 Ma", y:1331},
  {t:"Early Pleistocene fit", y:1382},
  {t:"Hönisch et al., 2009; 0-0.5 Ma", y:1470},
  {t:"Late Pleistocene fit", y:1521},
  {t:"Lüthi et al., 2008", y:1628}
];
const lg = svg.append("g");
lg.append("text").attr("transform", "translate(1191,1230.6) rotate(-90)")
  .attr("font-size", 29).text("Glacial");
lg.append("text").attr("transform", "translate(1249,1230.6) rotate(-90)")
  .attr("font-size", 29).text("Interglacial");
lg.selectAll("circle").data(legendCircles).join("circle")
  .attr("cx", d => d.cx).attr("cy", d => d.cy).attr("r", 13.6).attr("fill", d => d.c);
lg.append("line").attr("x1", 1161).attr("x2", 1258).attr("y1", 1369).attr("y2", 1369)
  .attr("stroke", COL.red).attr("stroke-width", 3);
lg.append("rect").attr("x", 1165.5).attr("y", 1451).attr("width", 27.5).attr("height", 27)
  .attr("fill", COL.h05G);
lg.append("rect").attr("x", 1226.5).attr("y", 1451).attr("width", 27.5).attr("height", 27)
  .attr("fill", COL.h05I);
lg.append("line").attr("x1", 1168).attr("x2", 1258).attr("y1", 1508).attr("y2", 1508)
  .attr("stroke", "#000").attr("stroke-width", 3);
lg.append("rect").attr("x", 1203.6).attr("y", 1586.5).attr("width", 19.3).attr("height", 18.5)
  .attr("fill", COL.ice);
legendTexts.forEach(d => {
  lg.append("text").attr("x", 1281).attr("y", d.y).attr("font-size", 30).text(d.t);
});
const ict = lg.append("text").attr("x", 1281).attr("y", 1592).attr("font-size", 30);
ict.append("tspan").text("Ice core pCO");
ict.append("tspan").attr("font-size", 18).attr("dy", 5).text("2");
ict.append("tspan").attr("dy", -5).text("; 0-0.8 Ma");
</script>
</body></html>
